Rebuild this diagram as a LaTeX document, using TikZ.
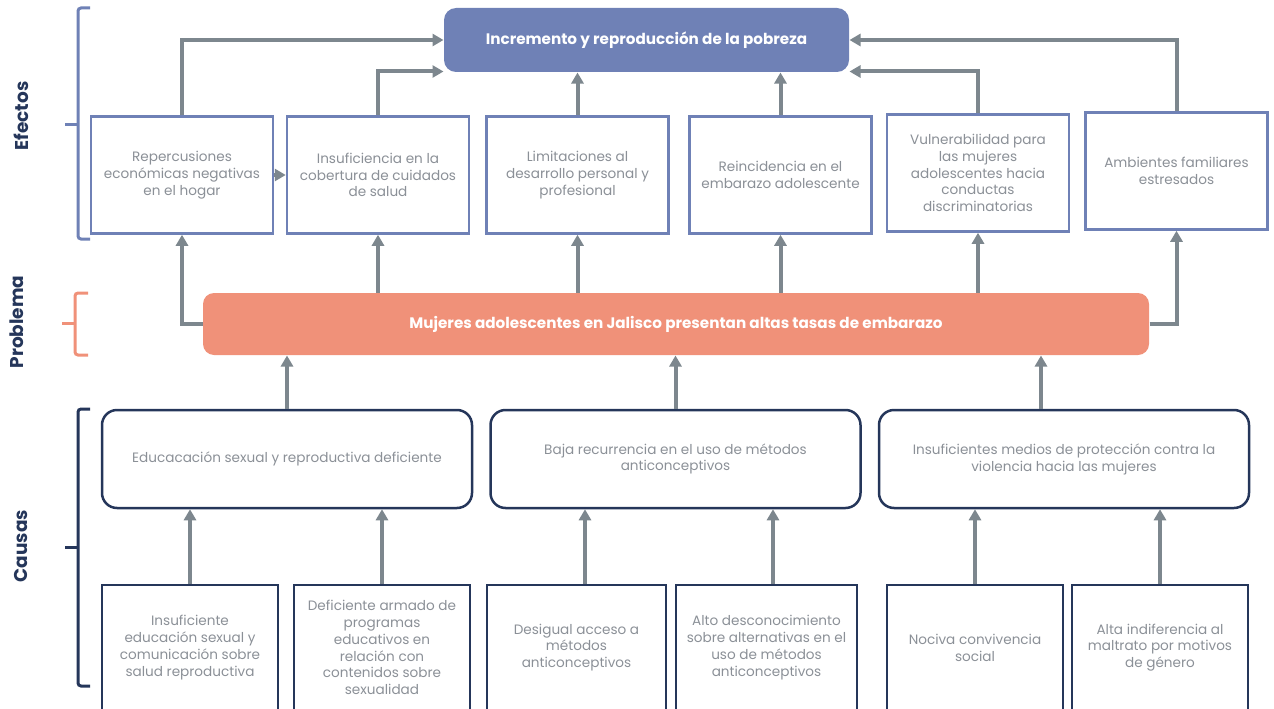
\documentclass[tikz,border=0pt]{standalone}
\usepackage{fontspec}
\setmainfont{Poppins}
\usetikzlibrary{arrows.meta}

\definecolor{azul}{HTML}{6F81B6}
\definecolor{salmon}{HTML}{F09179}
\definecolor{marino}{HTML}{25365A}
\definecolor{gris}{HTML}{7D878E}
\definecolor{texto}{HTML}{8B9097}

\tikzset{every path/.style={line width=1 pt}}
\tikzset{
  efecto/.style={draw=azul, line width=2.5pt, fill=white, text=texto, align=center,
    minimum width=182pt, minimum height=117pt, inner sep=0pt,
    font=\fontsize{13.6}{16.8}\selectfont},
  causa/.style={draw=marino, line width=2.5pt, rounded corners=15pt, text=texto, align=center,
    minimum width=370pt, minimum height=98pt, inner sep=0pt,
    font=\fontsize{13.6}{16.8}\selectfont},
  subcausa/.style={draw=marino, line width=2.5pt, text=texto, align=center,
    minimum height=125pt, inner sep=0pt, font=\fontsize{13.6}{16.8}\selectfont},
  flecha/.style={draw=gris, line width=4pt, -{Triangle[length=11pt,width=12pt]}},
  llave/.style={line width=3pt, rounded corners=3pt},
  lado/.style={rotate=90, text=marino, font=\fontsize{18.5}{20}\selectfont\bfseries}
}

\begin{document}
\begin{tikzpicture}[x=1pt,y=-1pt]
\useasboundingbox (0,0) rectangle (1274,709);

% efectos
\node[fill=azul, rounded corners=12pt, minimum width=405pt, minimum height=64pt, text=white,
  font=\fontsize{15.2}{17}\selectfont\bfseries] (pobreza) at (646.5,40) {Incremento y reproducción de la pobreza};
\node[efecto] (e1) at (182,175) {Repercusiones\\económicas negativas\\en el hogar};
\node[efecto] (e2) at (378,175) {Insuficiencia en la\\cobertura de cuidados\\de salud};
\node[efecto] (e3) at (577.5,175) {Limitaciones al\\desarrollo personal y\\profesional};
\node[efecto] (e4) at (780.5,175) {Reincidencia en el\\embarazo adolescente};
\node[efecto] (e5) at (978,173) {Vulnerabilidad para\\las mujeres\\adolescentes hacia\\conductas\\discriminatorias};
\node[efecto] (e6) at (1176.5,171) {Ambientes familiares\\estresados};

% problema
\node[fill=salmon, rounded corners=11pt, minimum width=946pt, minimum height=62pt, text=white,
  font=\fontsize{15.2}{17}\selectfont\bfseries] (prob) at (676,324) {Mujeres adolescentes en Jalisco presentan altas tasas de embarazo};

% causas
\node[causa] (c1) at (287,459) {Educacación sexual y reproductiva deficiente};
\node[causa] (c2) at (675.5,459) {Baja recurrencia en el uso de métodos\\anticonceptivos};
\node[causa] (c3) at (1064,459) {Insuficientes medios de protección contra la\\violencia hacia las mujeres};

\node[subcausa, minimum width=176pt] (s1) at (190,647.5) {Insuficiente\\educación sexual y\\comunicación sobre\\salud reproductiva};
\node[subcausa, minimum width=176pt] (s2) at (382,647.5) {Deficiente armado de\\programas\\educativos en\\relación con\\contenidos sobre\\sexualidad};
\node[subcausa, minimum width=179pt] (s3) at (576.5,647.5) {Desigual acceso a\\métodos\\anticonceptivos};
\node[subcausa, minimum width=181pt] (s4) at (766.5,647.5) {Alto desconocimiento\\sobre alternativas en el\\uso de métodos\\anticonceptivos};
\node[subcausa, minimum width=176pt] (s5) at (975,647.5) {Nociva convivencia\\social};
\node[subcausa, minimum width=176pt] (s6) at (1160,647.5) {Alta indiferencia al\\maltrato por motivos\\de género};

% flechas causas
\draw[flecha] (s1.north) -- (s1.north |- c1.south);
\draw[flecha] (s2.north) -- (s2.north |- c1.south);
\draw[flecha] ([xshift=8.5pt]s3.north) -- ([xshift=8.5pt]s3.north |- c2.south);
\draw[flecha] ([xshift=6.5pt]s4.north) -- ([xshift=6.5pt]s4.north |- c2.south);
\draw[flecha] (s5.north) -- (s5.north |- c3.south);
\draw[flecha] (s6.north) -- (s6.north |- c3.south);
\draw[flecha] (c1.north) -- (c1.north |- prob.south);
\draw[flecha] (c2.north) -- (c2.north |- prob.south);
\draw[flecha] ([xshift=-23pt]c3.north) -- ([xshift=-23pt]c3.north |- prob.south);

% flechas efectos
\draw[flecha] (prob.west) -| (e1.south);
\draw[flecha] (prob.north -| e2) -- (e2.south);
\draw[flecha] (prob.north -| e3) -- (e3.south);
\draw[flecha] (prob.north -| e4) -- (e4.south);
\draw[flecha] (prob.north -| e5) -- (e5.south);
\draw[flecha] (prob.east) -| (e6.south);
\draw[flecha] (e1.east) -- (e2.west);

\draw[flecha] (e1.north) |- (pobreza.west);
\draw[flecha] (e2.north) |- ([yshift=1pt]pobreza.south west);
\draw[flecha] (e3.north) -- (e3.north |- pobreza.south);
\draw[flecha] (e4.north) -- (e4.north |- pobreza.south);
\draw[flecha] (e5.north) |- ([yshift=1pt]pobreza.south east);
\draw[flecha] (e6.north) |- (pobreza.east);

% llaves
\draw[llave, azul] (90,8) -- (78,8) -- (78,239) -- (90,239);
\draw[llave, azul] (65,124) -- (78,124);
\draw[llave, salmon] (88,293) -- (75,293) -- (75,355) -- (88,355);
\draw[llave, salmon] (62,323) -- (75,323);
\draw[llave, marino] (90,409) -- (78,409) -- (78,686) -- (90,686);
\draw[llave, marino] (65,547) -- (78,547);

\node[lado] (lefectos) at (21,116) {Efectos};
\node[lado] (lproblema) at (17,322) {Problema};
\node[lado] (lcausas) at (21,546) {Causas};
\end{tikzpicture}
\end{document}
